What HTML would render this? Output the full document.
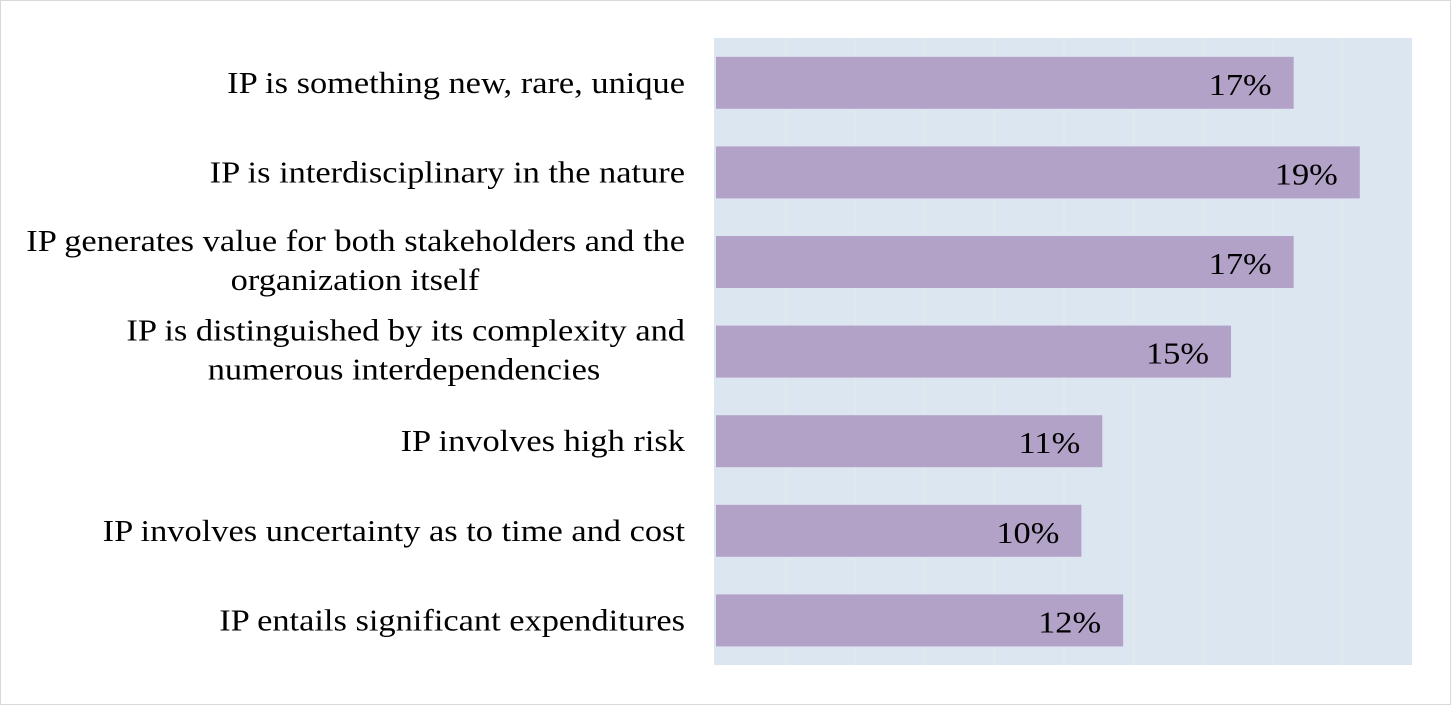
<!DOCTYPE html>
<html><head><meta charset="utf-8"><style>
body{margin:0;background:#fff;}
svg{display:block;font-family:"Liberation Serif",serif;}
</style></head><body>
<svg id="chart" width="1451" height="705">
<rect x="0.5" y="0.5" width="1450" height="704" fill="#fff" stroke="#d9d9d9"/>
<rect x="714" y="38" width="698" height="627" fill="#dce6f0"/>
<g id="grid"></g><g id="bars"></g><g id="labels"></g>
</svg>
<script>
const categories=[["IP is something new, rare, unique"],["IP is interdisciplinary in the nature"],["IP generates value for both stakeholders and the","organization itself"],["IP is distinguished by its complexity and","numerous interdependencies"],["IP involves high risk"],["IP involves uncertainty as to time and cost"],["IP entails significant expenditures"]];
const values=[16.6,18.5,16.6,14.8,11.1,10.5,11.7];
const valueLabels=["17%","19%","17%","15%","11%","10%","12%"];
const gridTicks=[2,4,6,8,10,12,14,16,18];
const NS="http://www.w3.org/2000/svg";
const x0=716,pxPer=34.8,plotTop=38,band=89.6,barH=52,SX=1.11;
const xs=v=>x0+v*pxPer;
const yc=i=>plotTop+band*(i+0.5);
function mk(t,a,p){const e=document.createElementNS(NS,t);for(const k in a)e.setAttribute(k,a[k]);p.appendChild(e);return e;}
function txt(x,y,anchor,s,p){const e=mk('text',{x:0,y:0,transform:`translate(${x},${y}) scale(${SX},1)`,'text-anchor':anchor,'font-size':31,fill:'#000'},p);e.textContent=s;return e;}
const g=document.getElementById('grid'),b=document.getElementById('bars'),l=document.getElementById('labels');
gridTicks.forEach(t=>{const e=mk('line',{x1:xs(t),x2:xs(t),y1:38,y2:665,stroke:'#e4e8ea','stroke-width':1.5},g);

});
values.forEach((v,i)=>{
const r=mk('rect',{x:x0,y:yc(i)-barH/2,width:xs(v)-x0,height:barH,fill:'#b3a2c7'},b);


const t=txt(xs(v)-22,yc(i)+12,'end',valueLabels[i],b);


const lines=categories[i];
const cy=yc(i);
lines.forEach((s,j)=>{
let x=685,y=cy+10,anchor='end';
if(lines.length>1){
  y=j===0?cy-11:cy+28;
  if(j===1){anchor='middle';x=(i===2?355:404);}
}
const tt=txt(x,y,anchor,s,l);


});
});
</script>
</body></html>
